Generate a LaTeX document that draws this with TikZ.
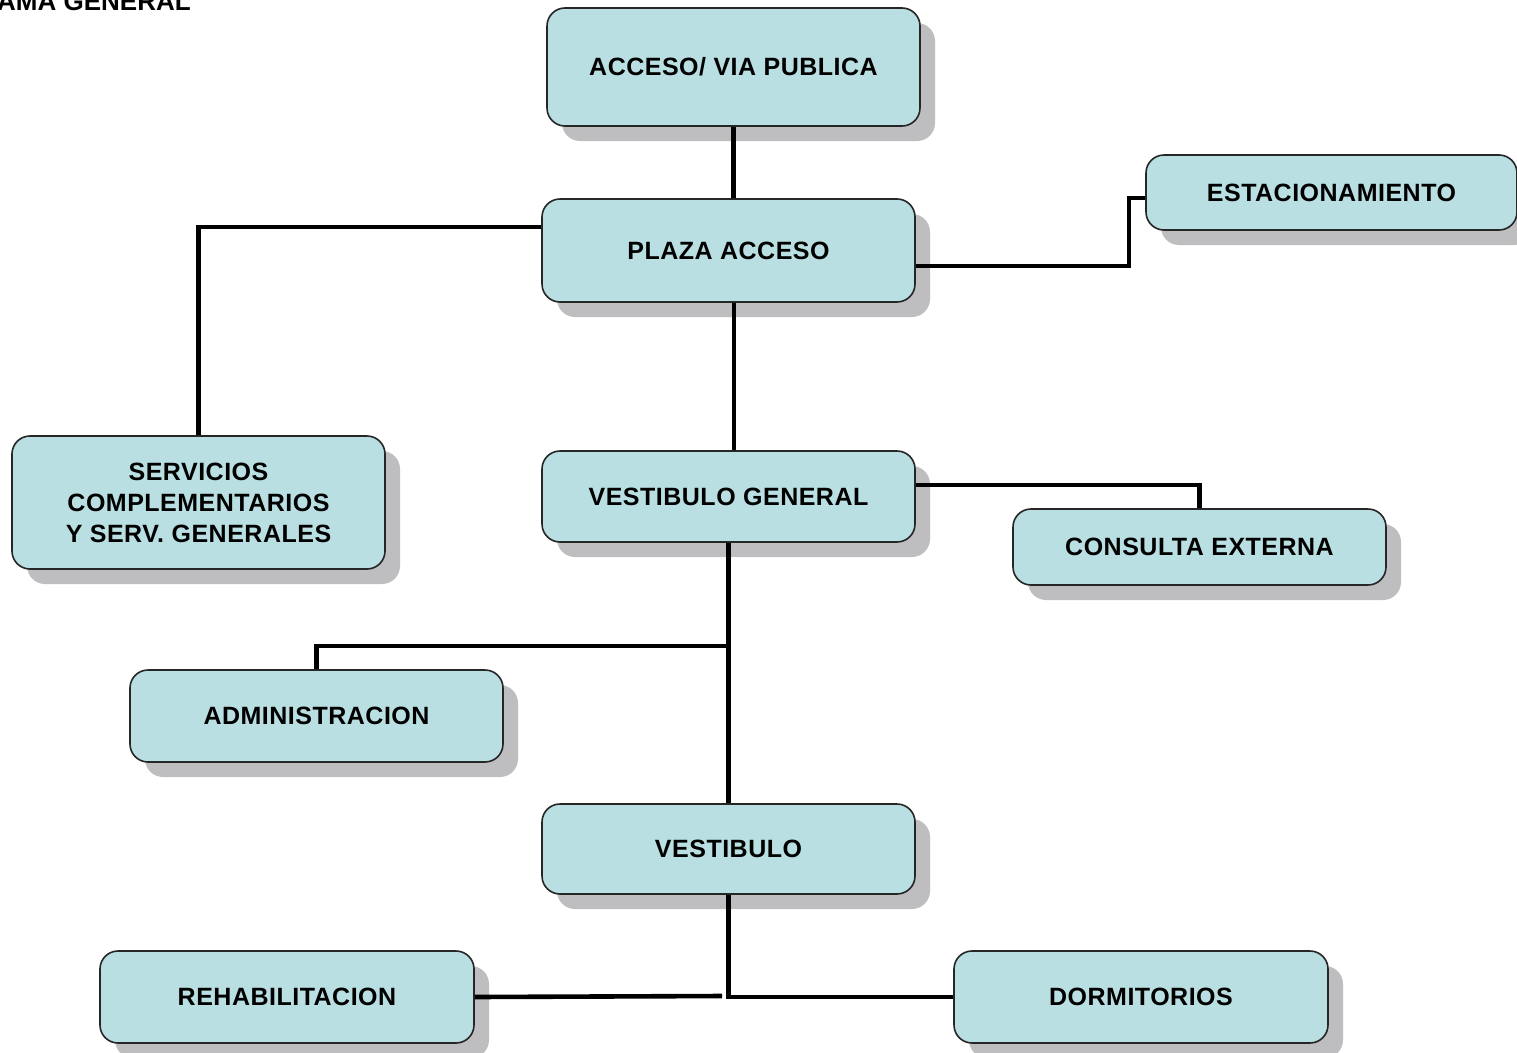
\documentclass[tikz,border=0pt]{standalone}
\usepackage{fontspec}
\setmainfont{Liberation Sans}
\usetikzlibrary{shadows}
\definecolor{boxfill}{RGB}{185,223,226}
\definecolor{shadowgray}{RGB}{190,190,192}
\tikzset{
  box/.style={draw=black!85, line width=1.6pt, fill=boxfill, rounded corners=18pt,
    inner sep=0pt, align=center,
    font=\bfseries\fontsize{25}{31}\selectfont\addfontfeature{LetterSpace=2},
    drop shadow={shadow xshift=15pt, shadow yshift=-15pt, fill=shadowgray, opacity=1}},
  conn/.style={draw=black, line width=4.6pt}
}
\begin{document}
\begin{tikzpicture}[x=1pt,y=-1pt]
\useasboundingbox (0,0) rectangle (1517,1052);
\fill[white] (0,0) rectangle (1517,1052);
\clip (0,0) rectangle (1517,1052);
\node[anchor=base west, font=\bfseries\fontsize{26}{30}\selectfont, inner sep=0pt] (title) at (-3,10.5) {AMA GENERAL};

\node[box, minimum width=373pt, minimum height=118pt] (acc) at (733.5,67) {ACCESO/ VIA PUBLICA};
\node[box, minimum width=373pt, minimum height=103pt] (plaza) at (728.5,250.5) {PLAZA ACCESO};
\node[box, minimum width=371pt, minimum height=75pt] (est) at (1331.5,192.5) {ESTACIONAMIENTO};
\node[box, minimum width=373pt, minimum height=133pt] (serv) at (198.5,502.5) {SERVICIOS\\COMPLEMENTARIOS\\Y SERV. GENERALES};
\node[box, minimum width=373pt, minimum height=91pt] (vg) at (728.5,496.5) {VESTIBULO GENERAL};
\node[box, minimum width=373pt, minimum height=76pt] (cons) at (1199.5,547) {CONSULTA EXTERNA};
\node[box, minimum width=373pt, minimum height=92pt] (adm) at (316.5,716) {ADMINISTRACION};
\node[box, minimum width=373pt, minimum height=90pt] (vest) at (728.5,849) {VESTIBULO};
\node[box, minimum width=374pt, minimum height=92pt] (rehab) at (287,997) {REHABILITACION};
\node[box, minimum width=374pt, minimum height=92pt] (dorm) at (1141,997) {DORMITORIOS};

\coordinate (jadm) at (728.5,646);
\coordinate (jrehab) at (722,996);

\draw[conn] (acc.south) -- (acc.south |- plaza.north);
\draw[conn] ([yshift=23.5pt]plaza.west) -| (serv.north);
\draw[conn] ([yshift=-15.5pt]plaza.east) -- ++(213,0) |- ([yshift=-5.5pt]est.west);
\draw[conn] ([xshift=5.5pt]plaza.south) -- ([xshift=5.5pt]vg.north);
\draw[conn] ([yshift=11.5pt]vg.east) -| (cons.north);
\draw[conn] (vg.south) -- (vest.north);
\draw[conn] (jadm) -| (adm.north);
\draw[conn] (vest.south) |- (dorm.west);
\draw[conn] (rehab.east) -- (jrehab);
\end{tikzpicture}
\end{document}
